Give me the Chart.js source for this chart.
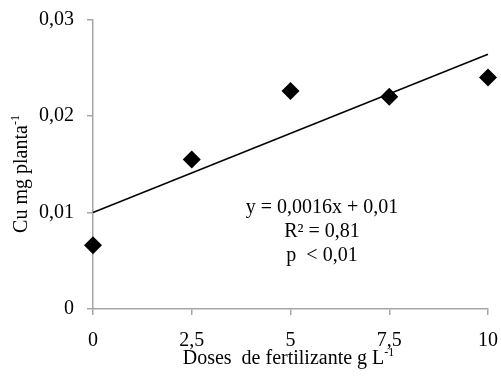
<!DOCTYPE html>
<html>
<head>
<meta charset="utf-8">
<script src="https://cdn.jsdelivr.net/npm/chart.js@4"></script>
<style>
  html, body { margin: 0; padding: 0; background: #fff; }
  #wrap { width: 501px; height: 383px; }
</style>
</head>
<body>
<div id="wrap"><canvas id="cuChart" width="501" height="383"></canvas></div>
<script>
// Doses (g L-1) and Cu content (mg planta-1)
const doses = [0, 2.5, 5, 7.5, 10];
const cuValues = [0.0066, 0.0155, 0.0226, 0.0220, 0.0240];

// fitted line end points: y = 0,0016x + 0,01
const trendX = [0, 10];
const trendY = [0.0100, 0.0264];

const yTicks = [0, 0.01, 0.02, 0.03];
const xTicks = [0, 2.5, 5, 7.5, 10];

const equationLines = ["y = 0,0016x + 0,01", "R² = 0,81", "p  < 0,01"];

const FONT = "'Liberation Serif', 'Times New Roman', serif";
const AXIS_GRAY = "#a6a6a6";

// comma decimal, like the original
function fmt(v) {
    return String(Math.round(v * 1000) / 1000).replace(".", ",");
}

// Draws text with a small raised "-1" after it
function drawSup(ctx, text, sup, x, y, size) {
    ctx.font = size + "px " + FONT;
    const w1 = ctx.measureText(text).width;
    ctx.font = Math.round(size * 0.6) + "px " + FONT;
    const w2 = ctx.measureText(sup).width;
    const start = x - (w1 + w2) / 2;
    ctx.textAlign = "left";
    ctx.textBaseline = "alphabetic";
    ctx.font = size + "px " + FONT;
    ctx.fillText(text, start, y);
    ctx.font = Math.round(size * 0.6) + "px " + FONT;
    ctx.fillText(sup, start + w1, y - size * 0.42);
}

// no extra room for edge tick labels, the layout padding handles it
function noEdgePadding(scale) {
    scale.paddingLeft = 0;
    scale.paddingRight = 0;
    scale.paddingTop = 0;
    scale.paddingBottom = 0;
}

const labelsPlugin = {
    id: "labels",
    afterDraw(chart) {
        const ctx = chart.ctx;
        const area = chart.chartArea;
        ctx.save();
        ctx.fillStyle = "#000";

        // x title
        drawSup(ctx, "Doses  de fertilizante g L", "-1", (area.left + area.right) / 2 - 2, 364, 20);

        // y title (rotated)
        ctx.save();
        ctx.translate(27, 174);
        ctx.rotate(-Math.PI / 2);
        drawSup(ctx, "Cu mg planta", "-1", 0, 0, 20);
        ctx.restore();

        // regression text
        ctx.font = "20px " + FONT;
        ctx.textAlign = "center";
        ctx.textBaseline = "middle";
        equationLines.forEach((t, i) => {
            ctx.fillText(t, 322, 208 + i * 24);
        });
        ctx.restore();
    }
};

new Chart(document.getElementById("cuChart"), {
    type: "scatter",
    data: {
        datasets: [
            {
                label: "Cu",
                data: doses.map((d, i) => ({ x: d, y: cuValues[i] })),
                pointStyle: "rectRot",
                pointRadius: 9,
                pointHoverRadius: 9,
                backgroundColor: "#000",
                borderColor: "#000",
                borderWidth: 0,
                clip: false,
                order: 1
            },
            {
                label: "Linear",
                type: "line",
                data: trendX.map((d, i) => ({ x: d, y: trendY[i] })),
                borderColor: "#000",
                borderWidth: 1.5,
                pointRadius: 0,
                fill: false,
                clip: false,
                order: 2
            }
        ]
    },
    options: {
        responsive: false,
        animation: false,
        layout: { padding: { top: 19.5, right: 13, left: 0, bottom: 0 } },
        plugins: {
            legend: { display: false },
            tooltip: { enabled: false }
        },
        scales: {
            x: {
                type: "linear",
                min: 0,
                max: 10,
                afterBuildTicks(scale) {
                    scale.ticks = xTicks.map(v => ({ value: v }));
                },
                afterFit(scale) {
                    scale.height = 74;
                    noEdgePadding(scale);
                },
                border: { color: AXIS_GRAY, width: 1.5 },
                grid: { drawOnChartArea: false, color: AXIS_GRAY, lineWidth: 1.5, tickLength: 6 },
                ticks: {
                    color: "#000",
                    font: { family: FONT, size: 20 },
                    padding: 14,
                    maxRotation: 0,
                    callback: v => fmt(v)
                }
            },
            y: {
                min: 0,
                max: 0.03,
                afterBuildTicks(scale) {
                    scale.ticks = yTicks.map(v => ({ value: v }));
                },
                afterFit(scale) {
                    scale.width = 93;
                    noEdgePadding(scale);
                },
                border: { color: AXIS_GRAY, width: 1.5 },
                grid: { drawOnChartArea: false, color: AXIS_GRAY, lineWidth: 1.5, tickLength: 6 },
                ticks: {
                    color: "#000",
                    font: { family: FONT, size: 20 },
                    padding: 13,
                    callback: v => fmt(v)
                }
            }
        }
    },
    plugins: [labelsPlugin]
});
</script>
</body>
</html>
